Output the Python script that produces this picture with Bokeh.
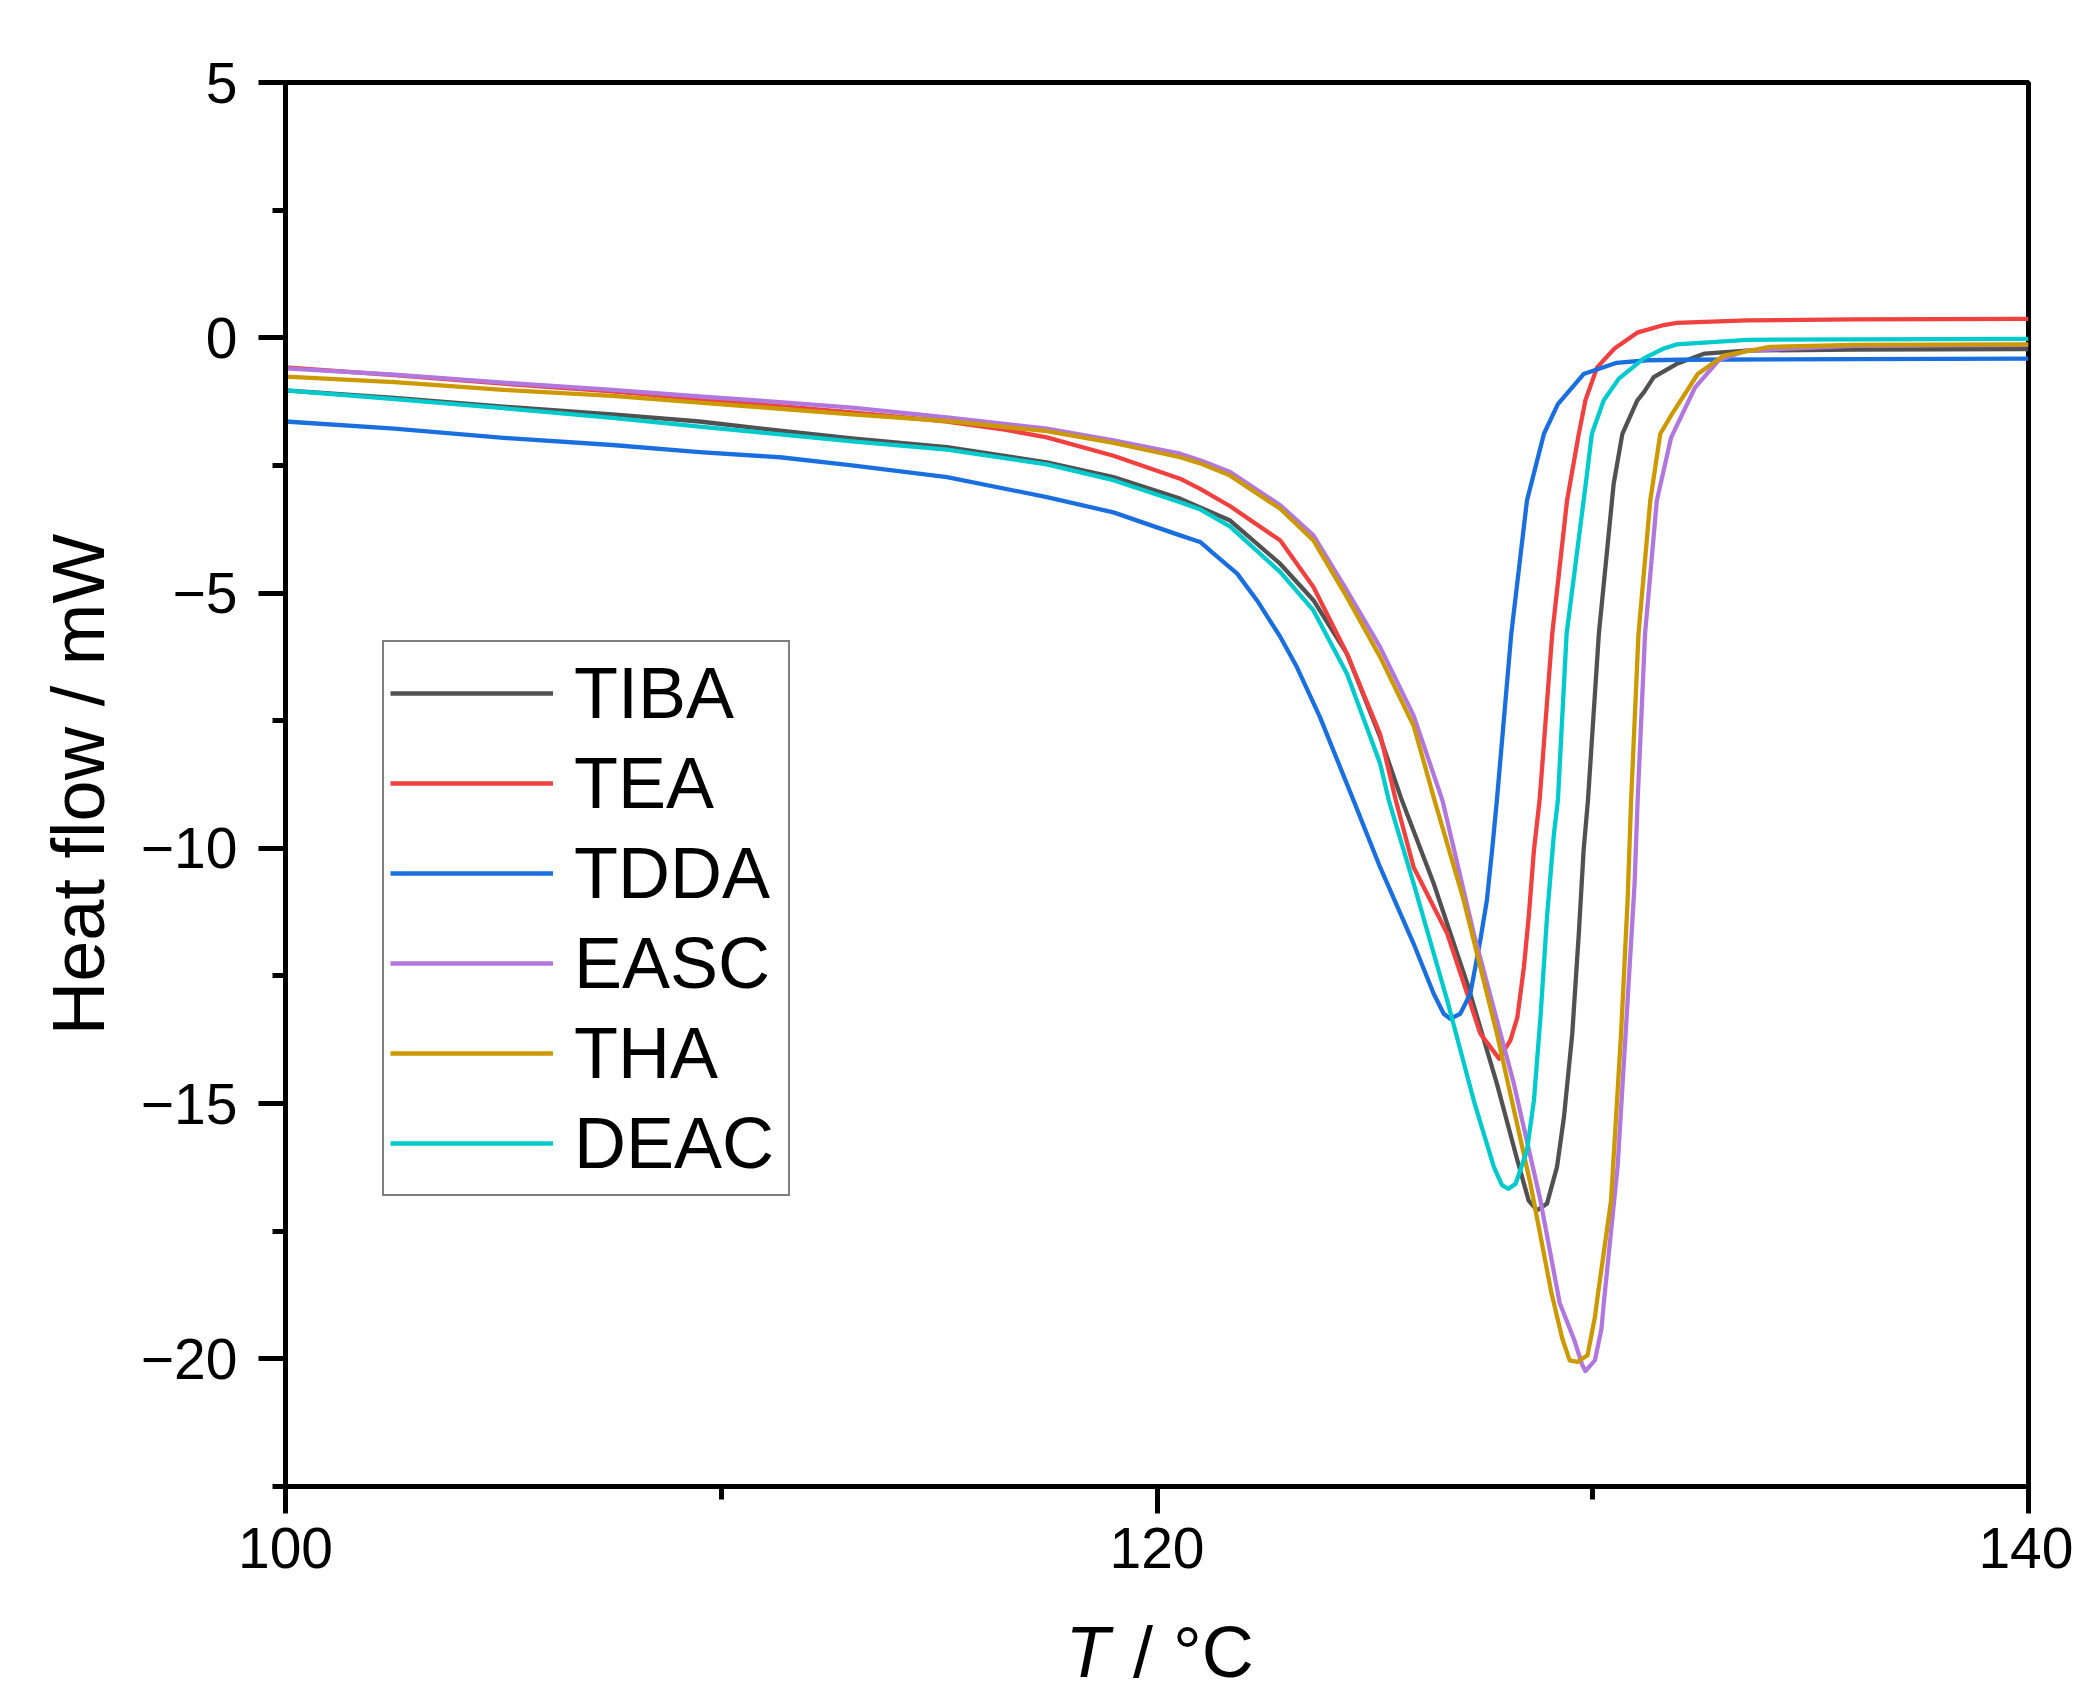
from bokeh.plotting import figure
from bokeh.layouts import column
from bokeh.models import Range1d, FixedTicker, Legend, LegendItem, Label
from bokeh.embed import file_html
from bokeh.resources import INLINE

# ---------------- data ----------------
T_TIBA = [100.0, 102.5, 105.0, 107.5, 109.5, 111.35, 113.0, 115.18, 117.47, 119.0, 120.53, 121.68,
          122.83, 123.59, 124.36, 125.12, 125.62, 126.35, 127.12, 127.80, 128.27, 128.53, 128.72,
          128.95, 129.18, 129.34, 129.53, 129.68, 129.79, 129.89, 130.14, 130.48, 130.68, 131.02,
          131.18, 131.40, 131.93, 132.57, 133.53, 136.0, 140.0]
HF_TIBA = [-1.03, -1.18, -1.35, -1.50, -1.64, -1.82, -1.97, -2.14, -2.44, -2.73, -3.15, -3.58,
           -4.43, -5.14, -6.19, -7.82, -9.06, -10.69, -12.65, -14.61, -16.11, -16.90, -17.09,
           -16.96, -16.24, -15.26, -13.63, -11.67, -10.04, -9.06, -5.80, -2.86, -1.88, -1.23,
           -1.06, -0.77, -0.51, -0.31, -0.25, -0.23, -0.22]

T_TEA = [100.0, 102.5, 105.0, 107.5, 109.5, 111.35, 113.0, 115.18, 116.5, 117.47, 119.0, 120.53,
         120.99, 121.68, 122.83, 123.59, 124.36, 125.12, 125.48, 125.89, 126.66, 127.12, 127.42,
         127.85, 128.11, 128.27, 128.42, 128.53, 128.65, 128.78, 129.07, 129.41, 129.68, 129.83,
         130.10, 130.50, 131.02, 131.63, 131.93, 133.54, 136.0, 140.0]
HF_TEA = [-0.58, -0.73, -0.90, -1.05, -1.20, -1.34, -1.46, -1.64, -1.80, -1.95, -2.31, -2.76,
          -2.96, -3.30, -3.97, -4.88, -6.19, -7.76, -9.06, -10.37, -11.67, -12.85, -13.63,
          -14.12, -13.76, -13.31, -12.33, -11.35, -10.04, -9.06, -5.80, -3.19, -1.88, -1.23,
          -0.58, -0.21, 0.10, 0.25, 0.29, 0.34, 0.36, 0.37]

T_TDDA = [100.0, 102.5, 105.0, 107.5, 109.5, 111.35, 113.0, 115.18, 117.47, 119.0, 120.53, 120.99,
          121.30, 121.84, 122.30, 122.83, 123.21, 123.74, 124.51, 125.12, 125.89, 126.35, 126.58,
          126.73, 126.96, 127.19, 127.42, 127.57, 127.69, 127.80, 128.13, 128.49, 128.88, 129.20,
          129.79, 130.55, 131.25, 132.0, 136.0, 140.0]
HF_TDDA = [-1.64, -1.78, -1.96, -2.10, -2.24, -2.34, -2.50, -2.73, -3.12, -3.42, -3.87, -4.00,
           -4.23, -4.62, -5.15, -5.86, -6.45, -7.43, -9.06, -10.37, -11.87, -12.85, -13.24,
           -13.34, -13.24, -12.85, -11.80, -11.02, -10.04, -9.06, -5.80, -3.19, -1.88, -1.30,
           -0.71, -0.49, -0.44, -0.43, -0.42, -0.41]

T_EASC = [100.0, 102.5, 105.0, 107.5, 109.5, 111.35, 113.0, 115.18, 117.47, 119.0, 120.53, 120.99,
          121.68, 122.83, 123.59, 124.36, 125.12, 125.89, 126.55, 127.27, 128.19, 128.80, 129.24,
          129.58, 129.75, 129.83, 130.05, 130.20, 130.26, 130.57, 130.80, 130.96, 131.03, 131.20,
          131.47, 131.80, 132.35, 132.89, 133.53, 136.0, 140.0]
HF_EASC = [-0.60, -0.72, -0.88, -1.02, -1.15, -1.26, -1.37, -1.56, -1.78, -2.01, -2.27, -2.40,
           -2.63, -3.28, -3.87, -4.95, -6.06, -7.40, -9.06, -11.67, -14.61, -16.90, -18.90,
           -19.64, -20.10, -20.24, -20.03, -19.41, -18.85, -16.24, -12.98, -10.69, -9.06, -5.80,
           -3.19, -1.95, -0.97, -0.44, -0.25, -0.16, -0.14]

T_THA = [100.0, 102.5, 105.0, 107.5, 109.5, 111.35, 113.0, 115.18, 117.47, 119.0, 120.53, 120.99,
         121.68, 122.83, 123.59, 124.36, 125.12, 125.89, 126.37, 127.04, 127.80, 128.57, 129.05,
         129.30, 129.47, 129.65, 129.88, 130.05, 130.10, 130.42, 130.65, 130.80, 130.88, 131.05,
         131.32, 131.55, 131.82, 132.41, 133.0, 134.07, 136.0, 140.0]
HF_THA = [-0.76, -0.87, -1.02, -1.14, -1.27, -1.39, -1.50, -1.63, -1.83, -2.06, -2.34, -2.46,
          -2.70, -3.35, -3.97, -5.08, -6.25, -7.60, -9.06, -11.02, -13.63, -16.57, -18.70,
          -19.60, -20.03, -20.06, -19.93, -19.18, -18.85, -16.90, -13.63, -11.02, -9.06, -5.80,
          -3.19, -1.88, -1.49, -0.71, -0.35, -0.18, -0.14, -0.13]

T_DEAC = [100.0, 102.5, 105.0, 107.5, 109.5, 111.35, 113.0, 115.18, 117.47, 119.0, 120.53, 120.99,
          121.68, 122.83, 123.59, 124.36, 125.12, 125.32, 125.89, 126.66, 127.27, 127.73, 127.92,
          128.07, 128.23, 128.49, 128.65, 128.80, 128.95, 129.11, 129.20, 129.40, 129.84, 129.98,
          130.25, 130.60, 131.18, 131.63, 131.93, 133.54, 136.0, 140.0]
HF_DEAC = [-1.03, -1.20, -1.38, -1.57, -1.74, -1.89, -2.03, -2.19, -2.48, -2.79, -3.22, -3.36,
           -3.70, -4.59, -5.34, -6.58, -8.34, -9.06, -10.69, -12.98, -14.94, -16.24, -16.60,
           -16.67, -16.57, -15.92, -14.94, -13.31, -11.35, -9.71, -9.06, -5.80, -2.86, -1.88,
           -1.23, -0.80, -0.40, -0.21, -0.13, -0.04, -0.03, -0.02]

SERIES_NAMES = ["TIBA", "TEA", "TDDA", "EASC", "THA", "DEAC"]
SERIES_T = [T_TIBA, T_TEA, T_TDDA, T_EASC, T_THA, T_DEAC]
SERIES_HF = [HF_TIBA, HF_TEA, HF_TDDA, HF_EASC, HF_THA, HF_DEAC]
SERIES_COLORS = ["#515151", "#F14040", "#1A6FDF", "#B177DE", "#CC9900", "#00CBCC"]

X_MAJOR = [100, 120, 140]
X_MINOR = [110, 130]
X_TICK_LABELS = ["100", "120", "140"]
Y_MAJOR = [-20, -15, -10, -5, 0, 5]
Y_MINOR = [-22.5, -17.5, -12.5, -7.5, -2.5, 2.5]
Y_TICK_LABELS = ["\u221220", "\u221215", "\u221210", "\u22125", "0", "5"]

FONT = "Liberation Sans"
LEFT, RIGHT, TOP = 285, 45, 82

# ---------------- main figure ----------------
x_rng = Range1d(100, 140)
p = figure(width=LEFT + 1743 + RIGHT, height=1600,
           x_range=x_rng, y_range=Range1d(-22.5, 5),
           output_backend="svg", toolbar_location=None,
           min_border_left=LEFT, min_border_right=RIGHT,
           min_border_top=TOP, min_border_bottom=1600 - TOP - 1404)
p.background_fill_color = "white"
p.border_fill_color = "white"
p.xgrid.visible = False
p.ygrid.visible = False
p.outline_line_color = "black"
p.outline_line_width = 5

renderers = []
for name, xs, ys, col in zip(SERIES_NAMES, SERIES_T, SERIES_HF, SERIES_COLORS):
    r = p.line(xs, ys, line_color=col, line_width=4.3, line_join="round")
    renderers.append((name, r))

for ax in (p.xaxis[0], p.yaxis[0]):
    ax.axis_line_width = 5
    ax.axis_line_color = "black"
    ax.major_tick_line_width = 5
    ax.minor_tick_line_width = 5
    ax.major_tick_out = 27
    ax.major_tick_in = 0
    ax.minor_tick_out = 13
    ax.minor_tick_in = 0
    ax.major_label_text_font = FONT
    ax.major_label_text_font_size = "57px"
    ax.major_label_text_color = "black"

p.xaxis[0].ticker = FixedTicker(ticks=X_MAJOR, minor_ticks=X_MINOR)
p.yaxis[0].ticker = FixedTicker(ticks=Y_MAJOR, minor_ticks=Y_MINOR)
p.xaxis[0].major_label_overrides = {v: s for v, s in zip(X_MAJOR, X_TICK_LABELS)}
p.yaxis[0].major_label_overrides = {v: s for v, s in zip(Y_MAJOR, Y_TICK_LABELS)}
p.xaxis[0].major_label_standoff = 14
p.yaxis[0].major_label_standoff = 21

p.yaxis[0].axis_label = "Heat flow / mW"
p.yaxis[0].axis_label_text_font = FONT
p.yaxis[0].axis_label_text_font_size = "74px"
p.yaxis[0].axis_label_text_font_style = "normal"
p.yaxis[0].axis_label_text_color = "black"
p.yaxis[0].axis_label_standoff = 18

legend = Legend(items=[LegendItem(label=n, renderers=[r]) for n, r in renderers],
                location=(97, 290), orientation="vertical",
                glyph_width=163, glyph_height=90, label_height=90, label_width=208,
                label_standoff=21, spacing=0, padding=6, margin=0,
                label_text_font=FONT, label_text_font_size="72px", label_text_color="black",
                border_line_color="black", border_line_width=2,
                background_fill_color="white", background_fill_alpha=1.0)
p.add_layout(legend)

# ---------------- strip below for the x-axis title (italic T) ----------------
H2 = 90
p2 = figure(width=LEFT + 1743 + RIGHT, height=H2, x_range=x_rng, y_range=Range1d(0, H2),
            output_backend="svg", toolbar_location=None,
            x_axis_location=None, y_axis_location=None,
            min_border_left=LEFT, min_border_right=RIGHT, min_border_top=0, min_border_bottom=0)
p2.xgrid.visible = False
p2.ygrid.visible = False
p2.outline_line_color = None
p2.background_fill_color = "white"
p2.border_fill_color = "white"
p2.add_layout(Label(x=117.9, y=39, text="T", text_font=FONT, text_font_size="72px",
                    text_font_style="italic", text_align="left", text_baseline="alphabetic",
                    text_color="black"))
p2.add_layout(Label(x=119.45, y=39, text="/ \u00b0C", text_font=FONT, text_font_size="72px",
                    text_font_style="normal", text_align="left", text_baseline="alphabetic",
                    text_color="black"))

layout = column(p, p2, spacing=0)
open("out.html", "w").write(file_html(layout, INLINE))
